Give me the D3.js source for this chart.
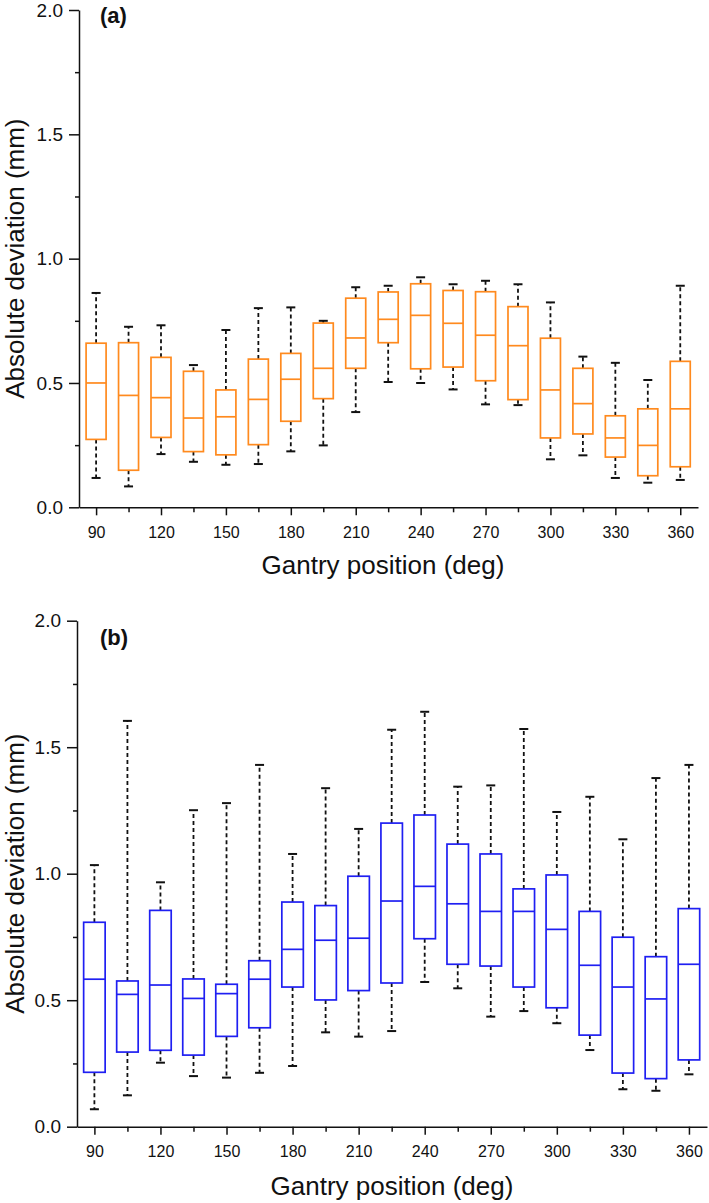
<!DOCTYPE html>
<html>
<head>
<meta charset="utf-8">
<script src="https://cdn.jsdelivr.net/npm/d3@7"></script>
<style>
  html, body { margin: 0; padding: 0; background: #fff; }
  svg { display: block; font-family: "Liberation Sans", Arial, sans-serif; }
</style>
</head>
<body>
<svg id="chart" width="709" height="1203"></svg>
<script>
// ---- data ----
const gantry = [90,105,120,135,150,165,180,195,210,225,240,255,270,285,300,315,330,345,360];
const xTickLabels = [90,120,150,180,210,240,270,300,330,360];
const yTickLabels = [0.0,0.5,1.0,1.5,2.0];

// panel (a)
const aLow    = [0.118,0.084,0.214,0.183,0.171,0.174,0.225,0.249,0.383,0.504,0.500,0.474,0.414,0.411,0.193,0.209,0.118,0.099,0.110];
const aQ1     = [0.273,0.149,0.281,0.224,0.211,0.252,0.346,0.437,0.559,0.662,0.557,0.564,0.509,0.433,0.279,0.295,0.202,0.127,0.163];
const aMedian = [0.500,0.450,0.441,0.359,0.364,0.434,0.515,0.559,0.681,0.756,0.772,0.740,0.692,0.650,0.472,0.417,0.279,0.249,0.396];
const aQ3     = [0.660,0.662,0.603,0.547,0.472,0.596,0.619,0.741,0.841,0.866,0.899,0.872,0.867,0.807,0.680,0.559,0.368,0.396,0.587];
const aHigh   = [0.862,0.726,0.732,0.572,0.713,0.801,0.804,0.750,0.885,0.891,0.925,0.897,0.911,0.897,0.824,0.606,0.581,0.512,0.891];

// panel (b)
const bLow    = [0.069,0.124,0.253,0.200,0.194,0.213,0.240,0.373,0.356,0.378,0.572,0.547,0.435,0.457,0.409,0.303,0.148,0.142,0.207];
const bQ1     = [0.215,0.295,0.302,0.283,0.357,0.391,0.552,0.501,0.538,0.568,0.743,0.642,0.635,0.552,0.470,0.362,0.212,0.190,0.264];
const bMedian = [0.583,0.523,0.560,0.507,0.526,0.583,0.701,0.737,0.745,0.892,0.950,0.881,0.851,0.851,0.780,0.638,0.552,0.505,0.642];
const bQ3     = [0.808,0.576,0.855,0.584,0.563,0.656,0.888,0.874,0.990,1.200,1.232,1.117,1.078,0.940,0.995,0.851,0.749,0.672,0.862];
const bHigh   = [1.034,1.604,0.966,1.251,1.279,1.430,1.078,1.338,1.177,1.569,1.640,1.344,1.349,1.572,1.244,1.304,1.136,1.378,1.430];

const panels = [
  { label: "(a)", color: "#FF8A1E", low: aLow, q1: aQ1, med: aMedian, q3: aQ3, high: aHigh,
    left: 79, right: 698, top: 10, bottom: 507.3, boxW: 20, labelY: 23, xTitleX: 383, xTitleY: 574 },
  { label: "(b)", color: "#1F1FF2", low: bLow, q1: bQ1, med: bMedian, q3: bQ3, high: bHigh,
    left: 77, right: 707, top: 620.7, bottom: 1126.7, boxW: 21.5, labelY: 645, xTitleX: 392, xTitleY: 1195 }
];

const svg = d3.select("#chart");
const FONT = "'Liberation Sans', Arial, sans-serif";

panels.forEach(p => {
  const x = d3.scaleLinear().domain([82.1, 368.2]).range([p.left, p.right]);
  const y = d3.scaleLinear().domain([0, 2]).range([p.bottom, p.top]);
  const g = svg.append("g");

  // minor y ticks
  g.append("g").attr("transform", `translate(${p.left},0)`)
    .call(d3.axisLeft(y).tickValues([0.25,0.75,1.25,1.75]).tickSize(4).tickFormat(""))
    .call(s => s.select(".domain").remove())
    .call(s => s.selectAll("line").attr("stroke", "#111").attr("stroke-width", 1.5));
  // major y axis
  g.append("g").attr("transform", `translate(${p.left},0)`)
    .call(d3.axisLeft(y).tickValues(yTickLabels).tickSize(10).tickSizeOuter(0).tickPadding(6).tickFormat(d3.format(".1f")))
    .call(s => s.select(".domain").attr("stroke", "#111").attr("stroke-width", 1.5))
    .call(s => s.selectAll("line").attr("stroke", "#111").attr("stroke-width", 1.5))
    .call(s => s.selectAll("text").attr("font-size", 19).attr("fill", "#111").attr("font-family", FONT));

  // minor x ticks
  g.append("g").attr("transform", `translate(0,${p.bottom})`)
    .call(d3.axisBottom(x).tickValues(gantry.filter(v => !xTickLabels.includes(v))).tickSize(5).tickFormat(""))
    .call(s => s.select(".domain").remove())
    .call(s => s.selectAll("line").attr("stroke", "#111").attr("stroke-width", 1.5));
  // major x axis
  g.append("g").attr("transform", `translate(0,${p.bottom})`)
    .call(d3.axisBottom(x).tickValues(xTickLabels).tickSize(8).tickSizeOuter(0).tickPadding(11).tickFormat(d3.format("d")))
    .call(s => s.select(".domain").attr("stroke", "#111").attr("stroke-width", 1.5))
    .call(s => s.selectAll("line").attr("stroke", "#111").attr("stroke-width", 1.5))
    .call(s => s.selectAll("text").attr("font-size", 16).attr("fill", "#111").attr("font-family", FONT));

  // boxes
  const boxes = g.append("g").selectAll("g.box").data(gantry.map((d, i) => ({
    pos: d, low: p.low[i], q1: p.q1[i], med: p.med[i], q3: p.q3[i], high: p.high[i]
  }))).join("g").attr("class", "box");

  // whiskers
  boxes.append("line")
    .attr("x1", d => x(d.pos)).attr("x2", d => x(d.pos))
    .attr("y1", d => y(d.q3)).attr("y2", d => y(d.high))
    .attr("stroke", "#111").attr("stroke-width", 1.8).attr("stroke-dasharray", "4,3");
  boxes.append("line")
    .attr("x1", d => x(d.pos)).attr("x2", d => x(d.pos))
    .attr("y1", d => y(d.q1)).attr("y2", d => y(d.low))
    .attr("stroke", "#111").attr("stroke-width", 1.8).attr("stroke-dasharray", "4,3");
  // caps
  ["high", "low"].forEach(k => {
    boxes.append("line")
      .attr("x1", d => x(d.pos) - 4.5).attr("x2", d => x(d.pos) + 4.5)
      .attr("y1", d => y(d[k])).attr("y2", d => y(d[k]))
      .attr("stroke", "#111").attr("stroke-width", 2);
  });
  // box rect
  boxes.append("rect")
    .attr("x", d => x(d.pos) - p.boxW / 2).attr("width", p.boxW)
    .attr("y", d => y(d.q3)).attr("height", d => y(d.q1) - y(d.q3))
    .attr("fill", "#fff").attr("stroke", p.color).attr("stroke-width", 1.7);
  // median
  boxes.append("line")
    .attr("x1", d => x(d.pos) - p.boxW / 2).attr("x2", d => x(d.pos) + p.boxW / 2)
    .attr("y1", d => y(d.med)).attr("y2", d => y(d.med))
    .attr("stroke", p.color).attr("stroke-width", 1.7);

  // panel label
  g.append("text").attr("x", 100).attr("y", p.labelY)
    .attr("font-size", 22).attr("font-weight", "bold").attr("fill", "#111").text(p.label);

  // axis titles
  g.append("text").attr("x", p.xTitleX).attr("y", p.xTitleY).attr("text-anchor", "middle")
    .attr("font-size", 26).attr("fill", "#111").text("Gantry position (deg)");
  g.append("text")
    .attr("transform", `translate(24,${(p.top + p.bottom) / 2}) rotate(-90)`)
    .attr("text-anchor", "middle").attr("font-size", 26).attr("fill", "#111")
    .text("Absolute deviation (mm)");
});
</script>
</body>
</html>
